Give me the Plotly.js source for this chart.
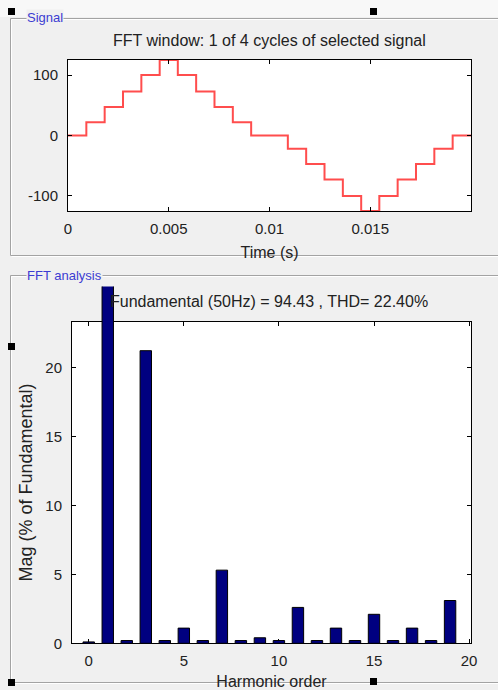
<!DOCTYPE html>
<html>
<head>
<meta charset="utf-8">
<script src="https://cdn.plot.ly/plotly-3.0.1.min.js"></script>
<style>
  html, body { margin: 0; padding: 0; background: #f0f0f0; }
  #chart { width: 498px; height: 690px; }
</style>
</head>
<body>
<div id="chart"></div>
<script>
// ---- Data ----
// Selected signal (one cycle, staircase), time in seconds
const time = [0, 0.00091, 0.00182, 0.00273, 0.00364, 0.00455, 0.00545, 0.00636, 0.00727, 0.00818, 0.00909,
              0.01091, 0.01182, 0.01273, 0.01364, 0.01455, 0.01545, 0.01636, 0.01727, 0.01818, 0.01909, 0.02];
const signal = [0, 22, 47, 73, 100, 125, 100, 73, 47, 22, 0,
                -22, -47, -73, -100, -125, -100, -73, -47, -22, 0, 0];

// FFT analysis: harmonic order and magnitude (% of fundamental)
const harmonicOrder = [0, 1, 2, 3, 4, 5, 6, 7, 8, 9, 10, 11, 12, 13, 14, 15, 16, 17, 18, 19];
const magnitude = [0.1, 100, 0.2, 21.2, 0.2, 1.1, 0.2, 5.3, 0.2, 0.4, 0.2, 2.6, 0.2, 1.1, 0.2, 2.1, 0.2, 1.1, 0.2, 3.1];

// Tick labels
const timeTickVals = [0, 0.005, 0.01, 0.015];
const timeTickText = ['0', '0.005', '0.01', '0.015'];
const sigTickVals = [-100, 0, 100];
const sigTickText = ['-100', '0', '100'];
const harmTickVals = [0, 5, 10, 15, 20];
const harmTickText = ['0', '5', '10', '15', '20'];
const magTickVals = [0, 5, 10, 15, 20];
const magTickText = ['0', '5', '10', '15', '20'];

// Texts
const topTitle = 'FFT window: 1 of 4 cycles of selected signal';
const bottomTitle = 'Fundamental (50Hz) = 94.43 , THD= 22.40%';

// ---- Layout helpers ----
const W = 498, H = 690;
const px = v => v / W;
const py = v => 1 - v / H;
const FONT = '"Liberation Sans", Arial, Helvetica, sans-serif';

const axisCommon = {
  ticks: 'inside', ticklen: 4, tickcolor: '#000', tickwidth: 1,
  showline: true, linecolor: '#000', linewidth: 1, mirror: 'ticks',
  showgrid: false, zeroline: false, fixedrange: true,
  tickfont: {family: FONT, size: 15, color: '#222'}
};

const traces = [
  {
    x: time, y: signal, type: 'scatter', mode: 'lines',
    line: {shape: 'hv', color: '#ff4d4d', width: 2},
    xaxis: 'x', yaxis: 'y', hoverinfo: 'skip'
  },
  // empty trace so the visible FFT axes are created
  { x: [], y: [], type: 'scatter', mode: 'lines', xaxis: 'x2', yaxis: 'y2', hoverinfo: 'skip' },
  {
    x: harmonicOrder, y: magnitude, type: 'bar', width: 0.6,
    marker: {color: '#000080', line: {color: '#000', width: 1}},
    xaxis: 'x3', yaxis: 'y3', hoverinfo: 'skip'
  }
];

const bottomTop = 321.7, bottomBot = 643.3, barTop = 286.5;
const magMax = 23.3;

const layout = {
  width: W, height: H, autosize: false,
  margin: {l: 0, r: 0, t: 0, b: 0},
  paper_bgcolor: '#f0f0f0', plot_bgcolor: 'rgba(0,0,0,0)',
  showlegend: false,
  font: {family: FONT, size: 15, color: '#222'},
  xaxis: Object.assign({}, axisCommon, {
    domain: [px(68), px(471)], range: [0, 0.02], anchor: 'y',
    tickmode: 'array', tickvals: timeTickVals, ticktext: timeTickText,
    ticklabelstandoff: 4,
    title: {text: 'Time (s)', standoff: 10, font: {family: FONT, size: 16, color: '#222'}}
  }),
  yaxis: Object.assign({}, axisCommon, {
    domain: [py(211), py(60)], range: [-125, 125], anchor: 'x',
    tickmode: 'array', tickvals: sigTickVals, ticktext: sigTickText,
    ticklabelstandoff: 6
  }),
  xaxis2: Object.assign({}, axisCommon, {
    domain: [px(72), px(471)], range: [-0.88, 20.1], anchor: 'y2',
    tickmode: 'array', tickvals: harmTickVals, ticktext: harmTickText,
    ticklabelstandoff: 4,
    title: {text: 'Harmonic order', standoff: 13, font: {family: FONT, size: 16, color: '#222'}}
  }),
  yaxis2: Object.assign({}, axisCommon, {
    domain: [py(bottomBot), py(bottomTop)], range: [0, magMax], anchor: 'x2',
    tickmode: 'array', tickvals: magTickVals, ticktext: magTickText,
    ticklabelstandoff: 6,
    title: {text: 'Mag (% of Fundamental)', standoff: 8, font: {family: FONT, size: 18, color: '#222'}}
  }),
  xaxis3: {
    domain: [px(72), px(471)], range: [-0.88, 20.1], anchor: 'y3',
    visible: false, showgrid: false, zeroline: false, fixedrange: true
  },
  yaxis3: {
    domain: [py(bottomBot), py(barTop)],
    range: [0, magMax * (bottomBot - barTop) / (bottomBot - bottomTop)], anchor: 'x3',
    visible: false, showgrid: false, zeroline: false, fixedrange: true
  },
  annotations: [
    {text: topTitle, xref: 'paper', yref: 'paper', x: px(269), y: py(41),
     xanchor: 'center', yanchor: 'middle', showarrow: false,
     font: {family: FONT, size: 16, color: '#222'}},
    {text: bottomTitle, xref: 'paper', yref: 'paper', x: px(269), y: py(301.5),
     xanchor: 'center', yanchor: 'middle', showarrow: false,
     font: {family: FONT, size: 16, color: '#222'}},
    {text: 'Signal', xref: 'paper', yref: 'paper', x: px(26), y: py(17),
     xanchor: 'left', yanchor: 'middle', showarrow: false, bgcolor: '#f0f0f0', borderpad: 0,
     font: {family: FONT, size: 13, color: '#3c3cd2'}},
    {text: 'FFT analysis', xref: 'paper', yref: 'paper', x: px(26), y: py(275),
     xanchor: 'left', yanchor: 'middle', showarrow: false, bgcolor: '#f0f0f0', borderpad: 0,
     font: {family: FONT, size: 13, color: '#3c3cd2'}}
  ],
  shapes: []
};

// plot area backgrounds
layout.shapes.push({type: 'rect', xref: 'x domain', yref: 'y domain', x0: 0, x1: 1, y0: 0, y1: 1,
  fillcolor: '#fff', line: {width: 0}, layer: 'below'});
layout.shapes.push({type: 'rect', xref: 'x2 domain', yref: 'y2 domain', x0: 0, x1: 1, y0: 0, y1: 1,
  fillcolor: '#fff', line: {width: 0}, layer: 'below'});
// lighter strip at the very top
layout.shapes.push({type: 'rect', xref: 'paper', yref: 'paper', x0: 0, x1: 1, y0: py(17), y1: 1,
  fillcolor: '#f8f8f8', line: {width: 0}, layer: 'below'});

// etched panel frames
function hline(y, x0, x1) {
  layout.shapes.push({type: 'line', xref: 'paper', yref: 'paper', x0: px(x0), x1: px(x1), y0: py(y), y1: py(y),
    line: {color: '#a3a3a3', width: 1}, layer: 'above'});
  layout.shapes.push({type: 'line', xref: 'paper', yref: 'paper', x0: px(x0 + 1), x1: px(x1), y0: py(y + 1), y1: py(y + 1),
    line: {color: '#ffffff', width: 1}, layer: 'above'});
}
function vline(x, y0, y1) {
  layout.shapes.push({type: 'line', xref: 'paper', yref: 'paper', x0: px(x), x1: px(x), y0: py(y0), y1: py(y1),
    line: {color: '#a3a3a3', width: 1}, layer: 'above'});
  layout.shapes.push({type: 'line', xref: 'paper', yref: 'paper', x0: px(x + 1), x1: px(x + 1), y0: py(y0 + 1), y1: py(y1),
    line: {color: '#ffffff', width: 1}, layer: 'above'});
}
hline(18.5, 10.5, 498); vline(10.5, 18.5, 255.5); hline(255.5, 10.5, 498);
hline(275.5, 10.5, 498); vline(10.5, 275.5, 682.5); hline(682.5, 10.5, 498);

// selection handles
[[8, 8], [370, 8], [8, 343], [8, 679], [370, 678]].forEach(([x, y]) => {
  layout.shapes.push({type: 'rect', xref: 'paper', yref: 'paper', x0: px(x), x1: px(x + 7), y0: py(y + 7), y1: py(y),
    fillcolor: '#000', line: {width: 0}, layer: 'above'});
});

Plotly.newPlot('chart', traces, layout, {staticPlot: true, displayModeBar: false});
</script>
</body>
</html>
